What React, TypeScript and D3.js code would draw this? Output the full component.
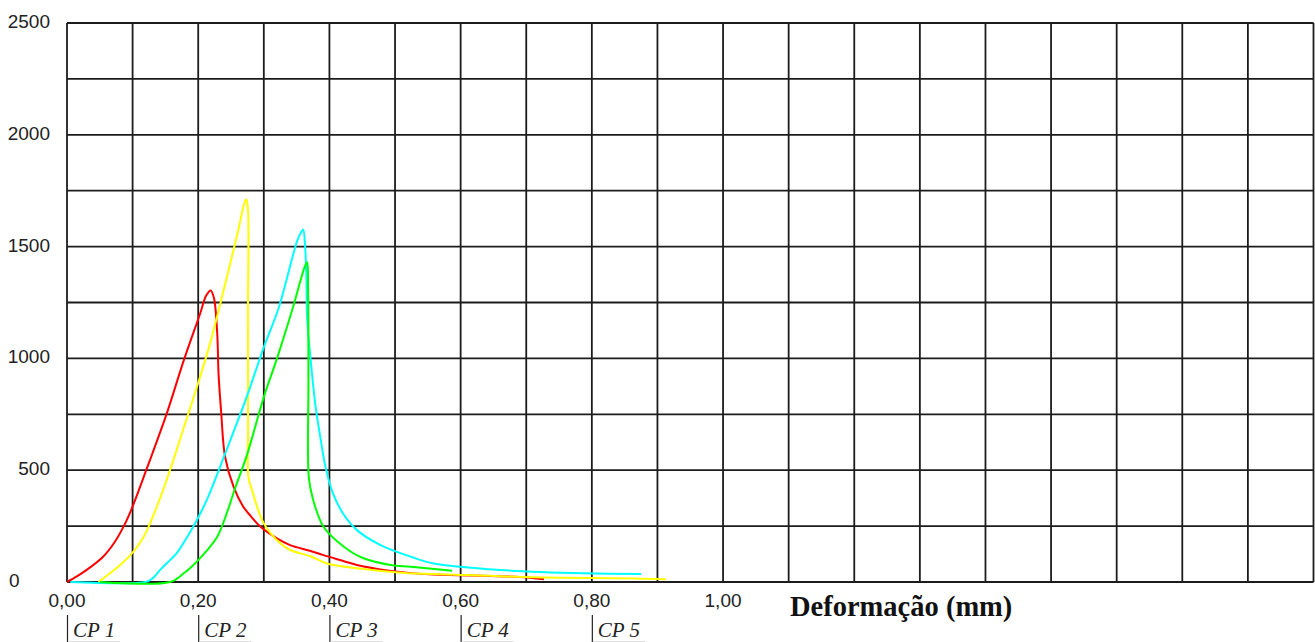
import React, { useEffect, useRef } from "react";
import * as d3 from "d3";

// axis ticks
const yTicks = [0, 500, 1000, 1500, 2000, 2500];
const xTickValues = [0, 0.2, 0.4, 0.6, 0.8, 1.0];
const xTickLabels = ["0,00", "0,20", "0,40", "0,60", "0,80", "1,00"];
const legendNames = ["CP 1", "CP 2", "CP 3", "CP 4", "CP 5"];
const legendPos = [0, 0.2, 0.4, 0.6, 0.8];

// CP 1 (red)
const cp1X = [0, 0.015, 0.03, 0.055, 0.073, 0.09, 0.101, 0.122, 0.152, 0.178, 0.203, 0.212, 0.219, 0.224, 0.229, 0.231, 0.235, 0.241, 0.254, 0.268, 0.28, 0.295, 0.32, 0.34, 0.37, 0.391, 0.42, 0.442, 0.488, 0.559, 0.646, 0.69, 0.727];
const cp1Y = [0, 25, 54, 113, 180, 270, 345, 510, 753, 991, 1201, 1280, 1304, 1270, 1110, 931, 760, 559, 425, 340, 295, 247, 195, 165, 140, 120, 95, 76, 52, 33, 27, 22, 12];

// CP 2 (yellow)
const cp2X = [0.048, 0.055, 0.068, 0.081, 0.099, 0.114, 0.122, 0.14, 0.157, 0.178, 0.198, 0.218, 0.24, 0.26, 0.27, 0.273, 0.2755, 0.2758, 0.2760, 0.2765, 0.282, 0.3, 0.325, 0.34, 0.371, 0.396, 0.442, 0.519, 0.559, 0.712, 0.865, 0.913];
const cp2Y = [0, 16, 45, 76, 128, 188, 232, 360, 500, 690, 872, 1066, 1320, 1560, 1690, 1712, 1680, 1200, 700, 470, 411, 262, 173, 143, 115, 83, 61, 39, 36, 21, 16, 12];

// CP 3 (cyan)
const cp3X = [0.005, 0.12, 0.13, 0.142, 0.157, 0.167, 0.183, 0.198, 0.215, 0.241, 0.272, 0.3, 0.323, 0.351, 0.357, 0.36, 0.363, 0.365, 0.366, 0.371, 0.379, 0.386, 0.394, 0.405, 0.42, 0.442, 0.478, 0.524, 0.559, 0.661, 0.788, 0.875];
const cp3Y = [0, 0, 15, 54, 98, 128, 200, 277, 380, 574, 812, 1050, 1229, 1527, 1565, 1576, 1497, 1350, 1184, 1006, 783, 650, 515, 400, 310, 232, 165, 113, 83, 54, 39, 36];

// CP 4 (green)
const cp4X = [0.05, 0.157, 0.178, 0.19, 0.21, 0.229, 0.245, 0.256, 0.274, 0.3, 0.32, 0.343, 0.363, 0.366, 0.3675, 0.368, 0.3685, 0.374, 0.391, 0.422, 0.452, 0.493, 0.524, 0.587];
const cp4Y = [0, 0, 39, 68, 130, 202, 320, 418, 565, 827, 999, 1214, 1415, 1430, 1300, 900, 470, 381, 247, 158, 106, 76, 68, 50];

const seriesX = [cp1X, cp2X, cp3X, cp4X];
const seriesY = [cp1Y, cp2Y, cp3Y, cp4Y];
const seriesColors = ["#ff0000", "#ffff00", "#00ffff", "#00ff00"];
const drawOrder = [0, 1, 2, 3];

const App = () => {
    const svgRef = useRef(null);
    const width = 1315;
    const height = 642;

    useEffect(() => {
        const svg = d3.select(svgRef.current);
        svg.selectAll("*").remove();

        const x = d3.scaleLinear().domain([0, 1.9]).range([67, 1313.5]);
        const y = d3.scaleLinear().domain([0, 2500]).range([582, 23]);

        // grid
        const grid = svg.append("g").attr("stroke", "#1c1c1c").attr("stroke-width", 1.8);
        grid.selectAll("line.v")
            .data(d3.range(0, 20).map((i) => i / 10))
            .join("line")
            .attr("class", "v")
            .attr("x1", (d) => x(d)).attr("x2", (d) => x(d))
            .attr("y1", y(0)).attr("y2", y(2500));
        grid.selectAll("line.h")
            .data(d3.range(0, 11).map((i) => i * 250))
            .join("line")
            .attr("class", "h")
            .attr("x1", x(0)).attr("x2", x(1.9))
            .attr("y1", (d) => y(d)).attr("y2", (d) => y(d));

        // y labels
        svg.append("g")
            .selectAll("text")
            .data(yTicks)
            .join("text")
            .attr("x", (d) => (d === 0 ? 9 : 50))
            .attr("y", (d) => y(d) + 5)
            .attr("text-anchor", (d) => (d === 0 ? "start" : "end"))
            .attr("font-family", "'Liberation Sans', Arial, sans-serif")
            .attr("font-size", 19)
            .attr("fill", "#222")
            .text((d) => d);

        // x labels
        svg.append("g")
            .selectAll("text")
            .data(xTickValues)
            .join("text")
            .attr("x", (d) => x(d))
            .attr("y", 607)
            .attr("text-anchor", "middle")
            .attr("font-family", "'Liberation Sans', Arial, sans-serif")
            .attr("font-size", 19)
            .attr("fill", "#222")
            .text((d, i) => xTickLabels[i]);

        svg.append("text")
            .attr("x", 790)
            .attr("y", 616)
            .attr("font-family", "'Liberation Serif', 'Times New Roman', serif")
            .attr("font-weight", "bold")
            .attr("font-size", 28.5)
            .attr("fill", "#111")
            .text("Deformação (mm)");

        // curves
        const line = d3.line()
            .x((d) => x(d[0]))
            .y((d) => y(d[1]))
            .curve(d3.curveCatmullRom.alpha(0.5));

        drawOrder.forEach((s) => {
            const pts = seriesX[s].map((v, i) => [v, seriesY[s][i]]);
            svg.append("path")
                .datum(pts)
                .attr("fill", "none")
                .attr("stroke", seriesColors[s])
                .attr("stroke-width", 2)
                .attr("stroke-linejoin", "round")
                .attr("d", line);
        });

        // legend
        const leg = svg.append("g")
            .selectAll("g")
            .data(legendNames)
            .join("g")
            .attr("transform", (d, i) => `translate(${x(legendPos[i])},0)`);
        leg.append("line")
            .attr("x1", 0.5).attr("x2", 0.5)
            .attr("y1", 615).attr("y2", 642)
            .attr("stroke", "#222")
            .attr("stroke-width", 1.2);
        leg.append("line")
            .attr("x1", 1).attr("x2", 53)
            .attr("y1", 641.5).attr("y2", 641.5)
            .attr("stroke", "#ddd")
            .attr("stroke-width", 1);
        leg.append("text")
            .attr("x", 6)
            .attr("y", 637)
            .attr("font-family", "'Liberation Serif', 'Times New Roman', serif")
            .attr("font-style", "italic")
            .attr("font-size", 21)
            .attr("fill", "#222")
            .text((d) => d);
    }, []);

    return (
        <svg
            ref={svgRef}
            width={width}
            height={height}
            style={{ position: "absolute", left: 0, top: 0, background: "#fff", display: "block" }}
        ></svg>
    );
};

export default App;
